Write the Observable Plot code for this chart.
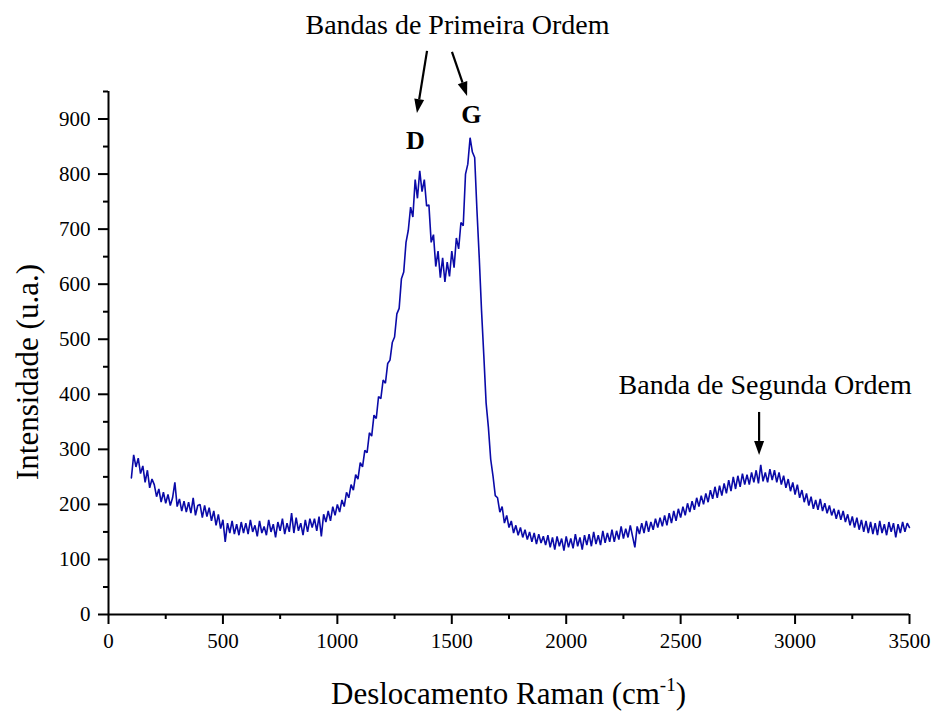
<!DOCTYPE html>
<html>
<head>
<meta charset="utf-8">
<script src="https://cdn.jsdelivr.net/npm/d3@7"></script>
<script src="https://cdn.jsdelivr.net/npm/@observablehq/plot@0.6"></script>
<style>
  html, body { margin: 0; padding: 0; background: #fff; }
  #chart { width: 933px; height: 713px; }
</style>
</head>
<body>
<div id="chart"></div>
<script>
// Raman shift sampling grid (cm^-1), every 10 cm^-1 from 100 to 3500
const ramanShift = d3.range(100, 3501, 10);

// Intensity (u.a.), one value per grid point
const intensity = [
  248, 290, 268, 284, 256, 270, 240, 262, 230, 246,
  236, 214, 228, 204, 222, 202, 218, 198, 212, 240,
  196, 210, 188, 206, 186, 204, 184, 212, 180, 198,
  200, 176, 198, 178, 194, 170, 188, 162, 182, 156,
  172, 132, 166, 148, 170, 146, 164, 144, 168, 148,
  166, 146, 172, 150, 162, 142, 170, 148, 160, 144,
  172, 150, 164, 140, 168, 152, 174, 146, 166, 150,
  184, 148, 176, 152, 166, 144, 172, 150, 174, 158,
  174, 152, 178, 142, 182, 168, 188, 170, 196, 180,
  200, 186, 208, 196, 222, 212, 236, 226, 254, 246,
  276, 268, 298, 294, 330, 324, 362, 356, 396, 392,
  426, 420, 456, 462, 494, 504, 546, 556, 610, 622,
  676, 698, 740, 722, 790, 756, 806, 768, 790, 742,
  744, 676, 690, 632, 660, 612, 648, 604, 640, 614,
  660, 630, 684, 664, 712, 706, 800, 818, 866, 840,
  830, 734, 648, 552, 470, 384, 340, 282, 252, 216,
  212, 186, 196, 166, 180, 158, 170, 148, 162, 144,
  158, 140, 154, 136, 150, 132, 148, 128, 146, 130,
  142, 126, 144, 122, 140, 118, 142, 124, 138, 116,
  142, 122, 138, 120, 146, 124, 140, 118, 144, 126,
  146, 124, 150, 128, 144, 126, 152, 130, 148, 132,
  154, 132, 152, 136, 160, 138, 156, 140, 162, 142,
  122, 160, 146, 166, 148, 170, 150, 168, 154, 174,
  158, 176, 160, 180, 162, 184, 166, 188, 170, 192,
  176, 196, 180, 202, 186, 206, 190, 212, 196, 216,
  200, 220, 204, 226, 210, 232, 212, 234, 216, 238,
  220, 244, 224, 250, 228, 252, 232, 256, 236, 254,
  236, 258, 240, 262, 238, 272, 242, 258, 240, 264,
  244, 262, 240, 258, 236, 252, 230, 246, 224, 240,
  218, 236, 212, 226, 204, 220, 198, 214, 192, 208,
  190, 210, 188, 202, 184, 198, 180, 192, 174, 190,
  172, 188, 168, 182, 162, 178, 158, 176, 154, 172,
  150, 170, 148, 168, 146, 166, 144, 170, 148, 164,
  144, 168, 150, 166, 140, 164, 148, 168, 150, 166, 158
];

// Tick values
const xMajorTicks = [0, 500, 1000, 1500, 2000, 2500, 3000, 3500];
const xMinorTicks = [250, 750, 1250, 1750, 2250, 2750, 3250];
const yMajorTicks = [0, 100, 200, 300, 400, 500, 600, 700, 800, 900];
const yMinorTicks = [50, 150, 250, 350, 450, 550, 650, 750, 850, 950];

// Texts
const xTitle = "Deslocamento Raman (cm";
const xTitleSup = "-1";
const yTitle = "Intensidade (u.a.)";
const annotations = [
  {x: 1525, y: 1055, text: "Bandas de Primeira Ordem", bold: false},
  {x: 1341, y: 845, text: "D", bold: true},
  {x: 1586, y: 892, text: "G", bold: true},
  {x: 2869, y: 401, text: "Banda de Segunda Ordem", bold: false}
];
// Annotation arrows (data coordinates: from -> to)
const arrows = [
  {x1: 1394, y1: 1023, x2: 1350, y2: 910},
  {x1: 1503, y1: 1021, x2: 1569, y2: 941},
  {x1: 2845, y1: 367, x2: 2845, y2: 289}
];

const data = ramanShift.map((x, i) => ({x, y: intensity[i]}));
const serif = "'Liberation Serif', 'Times New Roman', Times, serif";

const plot = Plot.plot({
  width: 933,
  height: 713,
  marginTop: 91,
  marginBottom: 99,
  marginLeft: 108,
  marginRight: 24,
  x: {domain: [0, 3500]},
  y: {domain: [0, 950]},
  style: {fontFamily: serif, fontSize: "21px", color: "black", background: "white", overflow: "visible"},
  marks: [
    Plot.line(data, {x: "x", y: "y", stroke: "#0a0aa8", strokeWidth: 1.6, strokeLinejoin: "miter"}),
    Plot.ruleY([0], {stroke: "black", strokeWidth: 2}),
    Plot.ruleX([0], {stroke: "black", strokeWidth: 2}),
    Plot.axisX(xMajorTicks, {tickSize: 10, tickPadding: 9, strokeWidth: 2, fontSize: 21, label: null, tickFormat: d => String(d)}),
    Plot.axisX(xMinorTicks, {tickSize: 5, strokeWidth: 2, label: null, tickFormat: () => ""}),
    Plot.axisY(yMajorTicks, {tickSize: 10, tickPadding: 8, strokeWidth: 2, fontSize: 21, label: null, tickFormat: d => String(d)}),
    Plot.axisY(yMinorTicks, {tickSize: 5, strokeWidth: 2, label: null, tickFormat: () => ""}),
    Plot.text(annotations.filter(d => !d.bold), {x: "x", y: "y", text: "text", fontSize: 28, lineAnchor: "bottom", fill: "black", clip: false}),
    Plot.text(annotations.filter(d => d.bold), {x: "x", y: "y", text: "text", fontSize: 26, fontWeight: "bold", lineAnchor: "bottom", fill: "black", clip: false})
  ]
});

const sx = plot.scale("x"), sy = plot.scale("y");
const svg = d3.select(plot).attr("overflow", "visible");

// arrows
const g = svg.append("g");
arrows.forEach(a => {
  const x1 = sx.apply(a.x1), y1 = sy.apply(a.y1), x2 = sx.apply(a.x2), y2 = sy.apply(a.y2);
  const dx = x2 - x1, dy = y2 - y1, len = Math.hypot(dx, dy);
  const ux = dx / len, uy = dy / len, head = 14, half = 5;
  const bx = x2 - ux * head, by = y2 - uy * head;
  g.append("line").attr("x1", x1).attr("y1", y1).attr("x2", bx).attr("y2", by)
    .attr("stroke", "black").attr("stroke-width", 2.2);
  g.append("polygon")
    .attr("points", [[x2, y2], [bx - uy * half, by + ux * half], [bx + uy * half, by - ux * half]].map(p => p.join(",")).join(" "))
    .attr("fill", "black");
});

// axis titles
const xt = svg.append("text")
  .attr("x", (sx.range[0] + sx.range[1]) / 2)
  .attr("y", 704)
  .attr("text-anchor", "middle")
  .attr("font-family", serif)
  .attr("font-size", 31)
  .attr("fill", "black");
xt.append("tspan").text(xTitle);
xt.append("tspan").attr("font-size", 19).attr("dy", -13).text(xTitleSup);
xt.append("tspan").attr("dy", 13).text(")");

svg.append("text")
  .attr("transform", "translate(38,372) rotate(-90)")
  .attr("text-anchor", "middle")
  .attr("font-family", serif)
  .attr("font-size", 31)
  .attr("fill", "black")
  .text(yTitle);

document.getElementById("chart").appendChild(plot);
</script>
</body>
</html>
